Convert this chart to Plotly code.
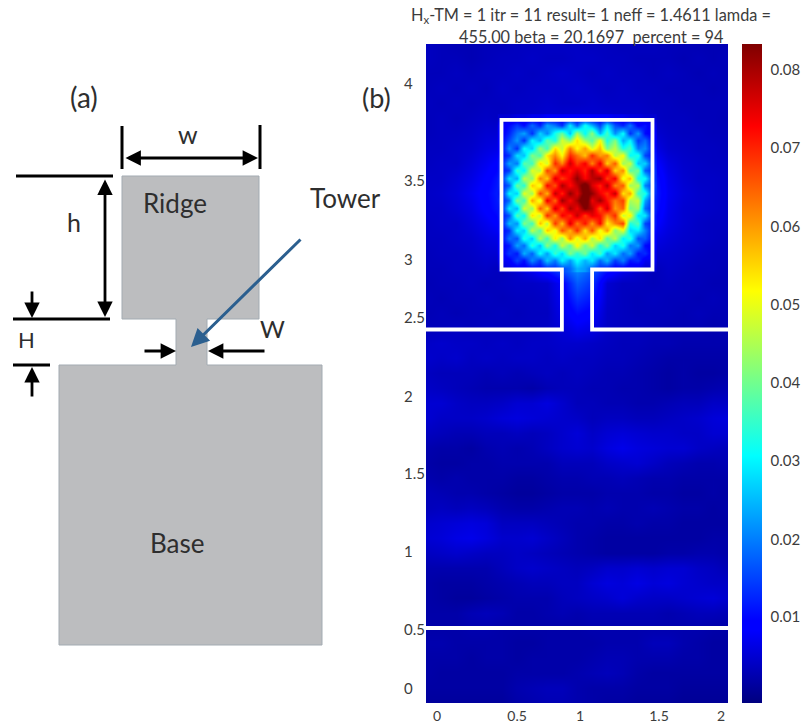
import numpy as np
import plotly.graph_objects as go

W, H = 802, 723
# plot box in page pixels
PL, PR, PT, PB = 426, 728, 44, 703
X_MAX = 2.0
PX_PER_Y = 150.0
Y_MAX = (PB - PT) / PX_PER_Y

# ---- field magnitude, whole window, top row y=4.4
BG_UNIT = 0.85e-4
bg_x = [round(0.1 * i, 1) for i in range(21)]
bg_y = [round(4.4 - 0.1 * i, 1) for i in range(45)]
bg_z = [
[55,50,45,45,50,50,55,55,60,60,60,55,55,50,55,55,50,50,45,45,45],
[55,50,50,45,50,55,55,60,55,55,60,60,55,55,50,50,50,45,50,45,50],
[50,50,55,50,55,55,60,55,60,65,60,55,60,55,55,50,55,50,45,50,45],
[50,55,50,55,50,60,55,60,60,60,65,60,55,60,55,55,50,50,50,45,50],
[55,50,55,50,55,55,60,60,65,60,60,65,60,60,60,55,55,50,50,50,50],
[50,55,50,55,60,55,60,65,70,70,75,70,70,65,65,60,55,55,50,50,45],
[50,55,55,60,70,70,100,180,300,370,390,370,300,180,100,70,60,55,55,50,50],
[55,55,60,65,80,90,170,320,490,580,590,580,490,320,170,90,65,60,55,55,50],
[55,60,60,75,95,120,260,490,670,710,710,710,670,490,260,120,80,65,60,55,55],
[60,60,70,85,110,150,350,570,720,750,760,750,720,570,350,150,90,70,60,60,55],
[60,65,75,95,120,160,390,590,710,760,830,760,710,590,390,160,95,75,65,60,55],
[60,60,70,85,115,150,350,570,720,750,760,750,720,570,350,150,90,70,65,60,55],
[55,60,60,75,95,120,260,490,670,710,710,710,670,490,260,120,85,70,60,55,55],
[55,55,60,65,80,90,170,320,490,580,590,580,490,320,170,90,75,65,60,55,50],
[50,55,55,60,70,70,100,180,300,370,390,370,300,180,100,70,65,60,55,50,50],
[50,50,55,55,60,50,70,100,150,210,260,210,150,100,70,50,60,55,50,50,45],
[45,50,50,55,50,55,60,60,65,110,210,170,70,55,55,50,55,50,50,45,45],
[50,45,50,50,55,50,55,55,60,100,170,140,65,55,50,55,50,50,45,50,45],
[45,50,45,50,50,55,50,55,55,90,130,110,60,55,50,50,50,45,50,45,45],
[50,50,55,50,55,50,55,55,60,75,95,85,60,55,55,50,45,45,45,40,45],
[60,65,60,60,55,60,55,60,60,65,65,60,55,50,50,45,45,40,40,40,40],
[65,60,65,55,60,55,60,60,55,60,55,55,50,50,45,40,35,35,35,35,35],
[55,50,50,50,45,50,45,50,55,50,55,50,45,45,40,35,30,35,30,30,35],
[60,55,50,45,40,40,40,35,45,50,50,45,45,40,40,35,30,35,35,40,45],
[70,70,60,55,55,60,70,70,80,65,50,50,45,45,40,40,45,50,50,60,60],
[70,60,60,60,65,75,80,75,70,65,60,50,55,55,50,50,55,60,65,75,80],
[55,50,45,45,50,50,55,50,55,65,75,60,70,75,70,65,65,60,60,70,70],
[40,35,35,30,40,45,40,45,55,65,70,65,80,90,80,75,70,70,60,55,50],
[35,30,30,35,35,40,40,40,40,50,50,50,60,65,70,60,50,45,40,40,45],
[40,35,40,35,35,35,30,30,35,40,40,45,45,50,45,40,40,35,35,35,35],
[50,45,40,40,35,30,25,25,30,35,35,35,40,40,40,35,35,30,30,35,30],
[50,55,50,55,50,40,35,35,40,45,45,40,45,40,40,45,40,35,35,30,35],
[65,70,75,80,75,55,55,55,50,45,40,40,35,35,40,35,35,30,30,30,30],
[70,75,85,90,80,65,65,70,60,50,40,35,30,30,30,30,30,30,30,35,35],
[55,60,65,60,55,55,60,55,50,45,40,35,30,30,30,30,35,35,40,40,35],
[40,40,40,40,40,50,60,65,60,55,50,55,65,65,70,65,70,70,60,55,45],
[35,30,30,30,35,40,45,50,50,55,55,70,80,75,85,75,80,70,65,60,60],
[35,30,25,25,30,35,40,40,40,50,55,60,65,75,65,60,60,65,70,75,65],
[35,35,35,45,50,45,35,35,40,45,40,45,45,45,45,45,40,45,50,50,45],
[35,35,35,40,40,35,35,35,35,35,35,40,40,40,40,40,40,40,40,35,35],
[40,40,35,35,35,35,30,30,35,35,35,35,40,40,40,50,50,40,35,30,30],
[35,35,35,30,35,35,30,35,35,35,35,40,45,45,40,40,40,35,35,30,30],
[35,30,30,30,30,30,35,35,35,35,40,45,50,45,35,30,30,30,30,30,30],
[30,30,30,30,30,30,40,45,50,50,40,35,35,35,30,30,30,25,25,25,25],
[25,25,25,25,25,25,35,40,45,45,40,35,30,30,25,25,25,20,20,20,20],
]

# ---- finer reading inside the ridge (units 1e-3), top row y=3.9
ridge_x = [round(0.5 + 0.05 * i, 2) for i in range(21)]
ridge_y = [round(3.9 - 0.05 * i, 2) for i in range(21)]
ridge_z = [
[6,6,7,7,8,8,9,9,9,10,10,10,9,9,9,8,8,7,7,6,6],
[9,11,15,11,19,13,24,20,14,30,18,33,25,16,29,17,13,20,10,12,8],
[9,13,20,24,14,28,21,33,40,26,45,31,43,25,37,22,32,14,23,11,9],
[10,16,23,14,31,25,39,33,49,42,55,44,38,52,33,42,24,31,15,19,10],
[10,22,14,32,27,44,36,55,47,63,52,60,49,58,41,47,33,37,20,22,11],
[11,14,29,26,42,37,54,62,52,70,64,57,70,60,63,46,52,31,34,16,12],
[12,24,20,39,36,55,48,70,62,77,68,74,62,75,56,66,44,48,26,28,13],
[12,15,36,30,50,46,68,60,78,71,76,70,80,67,77,55,62,38,41,18,14],
[13,29,24,47,42,63,56,76,68,74,82,73,78,81,68,74,50,58,32,32,14],
[13,18,40,34,57,50,73,66,80,72,78,88,76,70,79,62,66,44,47,21,15],
[12,31,27,50,44,68,58,78,70,82,75,86,82,74,69,78,54,60,36,34,14],
[13,19,42,36,60,49,75,64,81,73,80,90,74,81,72,63,68,45,48,24,13],
[12,30,25,49,43,66,55,77,67,80,74,84,79,66,77,60,65,41,44,19,13],
[12,17,38,31,55,47,70,60,74,69,78,68,75,72,62,70,47,54,29,30,12],
[11,26,22,42,36,58,46,69,57,76,63,72,60,73,53,62,68,33,38,16,12],
[11,14,31,27,47,38,57,50,67,58,70,54,67,50,61,42,50,28,30,21,11],
[10,20,17,34,27,46,36,54,43,62,49,60,45,55,38,47,30,35,17,18,10],
[10,12,24,19,35,26,43,32,48,38,53,40,49,33,42,27,34,20,23,11,9],
[9,15,12,25,18,32,23,36,28,42,34,41,29,37,23,30,19,24,12,14,8],
[8,9,16,11,22,15,27,20,31,23,32,25,30,19,26,15,21,12,14,8,8],
[6,7,8,9,10,11,13,14,16,19,25,23,18,14,12,10,9,8,7,6,6],
]

# ---- waveguide outline (data units)
edge_x = [0, 0.90, 0.90, 0.50, 0.50, 1.50, 1.50, 1.10, 1.10, 2.0]
edge_y = [2.49, 2.49, 2.89, 2.89, 3.887, 3.887, 2.89, 2.89, 2.49, 2.49]
slab_x = [0, 2.0]
slab_y = [0.5, 0.5]

# ---- tick labels
x_tick_labels = ["0", "0.5", "1", "1.5", "2"]
x_tick_vals = [0.073, 0.603, 1.02, 1.543, 1.954]
y_tick_labels = ["4", "3.5", "3", "2.5", "2", "1.5", "1", "0.5", "0"]
y_tick_vals = [4.133, 3.487, 2.96, 2.573, 2.047, 1.533, 1.013, 0.493, 0.1]
cb_labels = ["0.08", "0.07", "0.06", "0.05", "0.04", "0.03", "0.02", "0.01"]
cb_vals = [0.0801, 0.0703, 0.0603, 0.0504, 0.0405, 0.0306, 0.0207, 0.0109]
Z_MAX = 0.0834
cb_true_ticks = [0.06, 0.05, 0.04, 0.03, 0.02]

jet = [[0, "#00007f"], [0.11, "#0000ff"], [0.125, "#0000ff"], [0.375, "#00ffff"],
       [0.625, "#ffff00"], [0.875, "#ff0000"], [1, "#7f0000"]]

# ---- schematic (a), page pixels
shape_x = [122, 259, 259, 207, 207, 322, 322, 59, 59, 176, 176, 122, 122]
shape_y = [176, 176, 319, 319, 365, 365, 645, 645, 365, 365, 319, 319, 176]
black_rules = [
    ((122, 122), (126, 169)), ((260, 260), (125, 169)),
    ((16, 113), (176, 176)), ((13, 110), (319, 319)), ((13, 50), (365, 365)),
]
dim_arrows = [  # tail, head, both ends
    ((124, 158), (258, 158), True),
    ((105, 178), (105, 317), True),
    ((32, 290), (32, 318), False),
    ((32, 398), (32, 367), False),
    ((143, 351), (176, 351), False),
    ((266, 351), (208, 351), False),
]
pointer = ((302, 238), (191, 347))
labels_a = [("(a)", 84, 97, 28), ("(b)", 376, 97, 27), ("w", 188, 134, 25),
            ("h", 74, 222, 25), ("Ridge", 175, 203, 26), ("Tower", 345, 198, 26),
            ("W", 272, 328, 24), ("H", 26, 339, 22), ("Base", 177, 543, 26)]
title_lines = ["H<sub>x</sub>-TM = 1 itr = 11 result= 1 neff = 1.4611 lamda =",
               "455.00 beta = 20.1697  percent = 94"]

FONT = "Lato"
INK = "#3c3c3c"

fig = go.Figure()
fig.add_trace(go.Heatmap(x=bg_x, y=bg_y, z=(np.array(bg_z) * BG_UNIT).tolist(),
                         coloraxis="coloraxis", zsmooth="best", hoverinfo="skip"))
fig.add_trace(go.Heatmap(x=ridge_x, y=ridge_y, z=(np.array(ridge_z) * 1e-3).tolist(),
                         coloraxis="coloraxis", zsmooth="best", hoverinfo="skip"))
for xs, ys in [(edge_x, edge_y), (slab_x, slab_y)]:
    fig.add_trace(go.Scatter(x=xs, y=ys, mode="lines", hoverinfo="skip",
                             line=dict(color="white", width=3.8, simplify=False)))

# schematic on a page-pixel overlay
fig.add_trace(go.Scatter(x=shape_x, y=shape_y, xaxis="x2", yaxis="y2", mode="lines",
                         fill="toself", fillcolor="#bcbdbf", hoverinfo="skip",
                         line=dict(color="#a3abb2", width=1)))
for xs, ys in black_rules:
    fig.add_trace(go.Scatter(x=xs, y=ys, xaxis="x2", yaxis="y2", mode="lines", hoverinfo="skip",
                             line=dict(color="black", width=3)))
for v in cb_true_ticks:
    py = PB - v / Z_MAX * (PB - PT)
    fig.add_trace(go.Scatter(x=[755, 762], y=[py, py], xaxis="x2", yaxis="y2", mode="lines",
                             hoverinfo="skip", line=dict(color="#3a5a3a", width=1)))

ann = []
for tail, head, both in dim_arrows:
    ann.append(dict(x=head[0], y=head[1], ax=tail[0], ay=tail[1], xref="x2", yref="y2",
                    axref="x2", ayref="y2", text="", showarrow=True, arrowhead=2,
                    arrowsize=1.1, arrowwidth=2.8, arrowcolor="black",
                    arrowside="end+start" if both else "end"))
ann.append(dict(x=pointer[1][0], y=pointer[1][1], ax=pointer[0][0], ay=pointer[0][1],
                xref="x2", yref="y2", axref="x2", ayref="y2", text="", showarrow=True,
                arrowhead=2, arrowsize=1.2, arrowwidth=3, arrowcolor="#2b5f8f"))
for t, x, y, s in labels_a:
    ann.append(dict(x=x, y=y, xref="x2", yref="y2", text=t, showarrow=False,
                    font=dict(family=FONT, size=s, color="#2e2e2e")))
for t, y in zip(title_lines, (15, 36)):
    ann.append(dict(x=591, y=y, xref="x2", yref="y2", text=t, showarrow=False,
                    font=dict(family=FONT, size=16.3, color=INK)))
for t, v in zip(y_tick_labels, y_tick_vals):
    ann.append(dict(x=402, y=v, xref="x2", yref="y", text=t, showarrow=False, xanchor="left",
                    font=dict(family=FONT, size=15, color=INK)))

fig.update_layout(
    width=W, height=H, autosize=False, margin=dict(l=0, r=0, t=0, b=0),
    paper_bgcolor="white", plot_bgcolor="rgba(0,0,0,0)", showlegend=False,
    annotations=ann,
    coloraxis=dict(
        cmin=0, cmax=Z_MAX, colorscale=jet,
        colorbar=dict(
            x=742 / W, xanchor="left", y=(H - PB) / H, yanchor="bottom",
            thicknessmode="pixels", thickness=20, lenmode="pixels", len=PB - PT,
            xpad=0, ypad=0, outlinewidth=0, tickmode="array", tickvals=cb_vals,
            ticktext=cb_labels, ticks="outside", ticklen=6, tickcolor="rgba(0,0,0,0)",
            tickfont=dict(family=FONT, size=15, color=INK),
        ),
    ),
    xaxis=dict(domain=[PL / W, PR / W], range=[0, X_MAX], showgrid=False, zeroline=False,
               showline=False, ticks="", tickmode="array", tickvals=x_tick_vals,
               ticktext=x_tick_labels, tickfont=dict(family=FONT, size=14, color=INK),
               ticklabelstandoff=3, automargin=False),
    yaxis=dict(domain=[(H - PB) / H, (H - PT) / H], range=[0, Y_MAX], showgrid=False,
               zeroline=False, showline=False, ticks="", showticklabels=False),
    xaxis2=dict(domain=[0, 1], range=[0, W], visible=False, anchor="y2"),
    yaxis2=dict(domain=[0, 1], range=[H, 0], visible=False, anchor="x2"),
)
fig.write_html("out.html", config={"displayModeBar": False},
               post_script="document.documentElement.style.overflow='hidden';"
                           "document.body.style.margin='0';document.body.style.overflow='hidden';"
                           "window.scrollTo(0,0);")
